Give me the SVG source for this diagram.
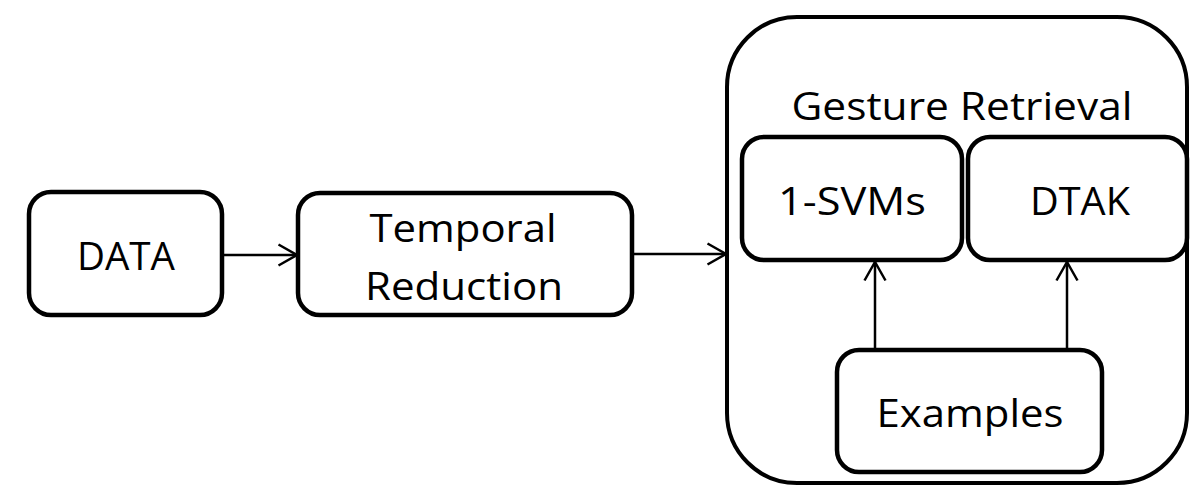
<svg xmlns="http://www.w3.org/2000/svg" width="1190" height="486" viewBox="0 0 1190 486">
  <defs>
    <marker id="arrow" markerWidth="24" markerHeight="24" refX="20" refY="12" orient="auto" markerUnits="userSpaceOnUse">
      <path d="M1.5,1.5 L20,12 L1.5,22.5" fill="none" stroke="#000" stroke-width="2.5"/>
    </marker>
    <style>
      .box { fill: #fff; stroke: #000; stroke-width: 4.5; }
      .outer { fill: #fff; stroke: #000; stroke-width: 4; }
      .lbl { font-family: "Open Sans", "Liberation Sans", sans-serif; font-size: 39px; fill: #000; text-anchor: middle; }
      .edge { fill: none; stroke: #000; stroke-width: 2.5; marker-end: url(#arrow); }
    </style>
  </defs>
  <rect width="1190" height="486" fill="#fff"/>

  <g id="gesture-retrieval">
    <rect class="outer" x="727" y="17" width="460" height="466" rx="70" ry="70"/>
    <text class="lbl" x="962" y="120" textLength="341" lengthAdjust="spacingAndGlyphs">Gesture Retrieval</text>
  </g>

  <g id="data">
    <rect class="box" x="29" y="192" width="193" height="123" rx="22" ry="22"/>
    <text class="lbl" x="126" y="270" textLength="98" lengthAdjust="spacingAndGlyphs">DATA</text>
  </g>

  <g id="temporal-reduction">
    <rect class="box" x="298" y="193" width="334" height="122" rx="22" ry="22"/>
    <text class="lbl" x="463" y="242" textLength="187" lengthAdjust="spacingAndGlyphs">Temporal</text>
    <text class="lbl" x="464" y="300" textLength="198" lengthAdjust="spacingAndGlyphs">Reduction</text>
  </g>

  <g id="svms">
    <rect class="box" x="742" y="137" width="220" height="123" rx="22" ry="22"/>
    <text class="lbl" x="852" y="215" textLength="148" lengthAdjust="spacingAndGlyphs">1-SVMs</text>
  </g>

  <g id="dtak">
    <rect class="box" x="968" y="137" width="219" height="123" rx="22" ry="22"/>
    <text class="lbl" x="1080" y="215" textLength="100" lengthAdjust="spacingAndGlyphs">DTAK</text>
  </g>

  <g id="examples">
    <rect class="box" x="837" y="350" width="265" height="122" rx="22" ry="22"/>
    <text class="lbl" x="970" y="427" textLength="187" lengthAdjust="spacingAndGlyphs">Examples</text>
  </g>

  <g id="connectors">
    <line class="edge" x1="222" y1="255" x2="297" y2="255"/>
    <line class="edge" x1="632" y1="254" x2="726" y2="254"/>
    <line class="edge" x1="875" y1="348" x2="875" y2="262"/>
    <line class="edge" x1="1067" y1="348" x2="1067" y2="262"/>
  </g>
</svg>
